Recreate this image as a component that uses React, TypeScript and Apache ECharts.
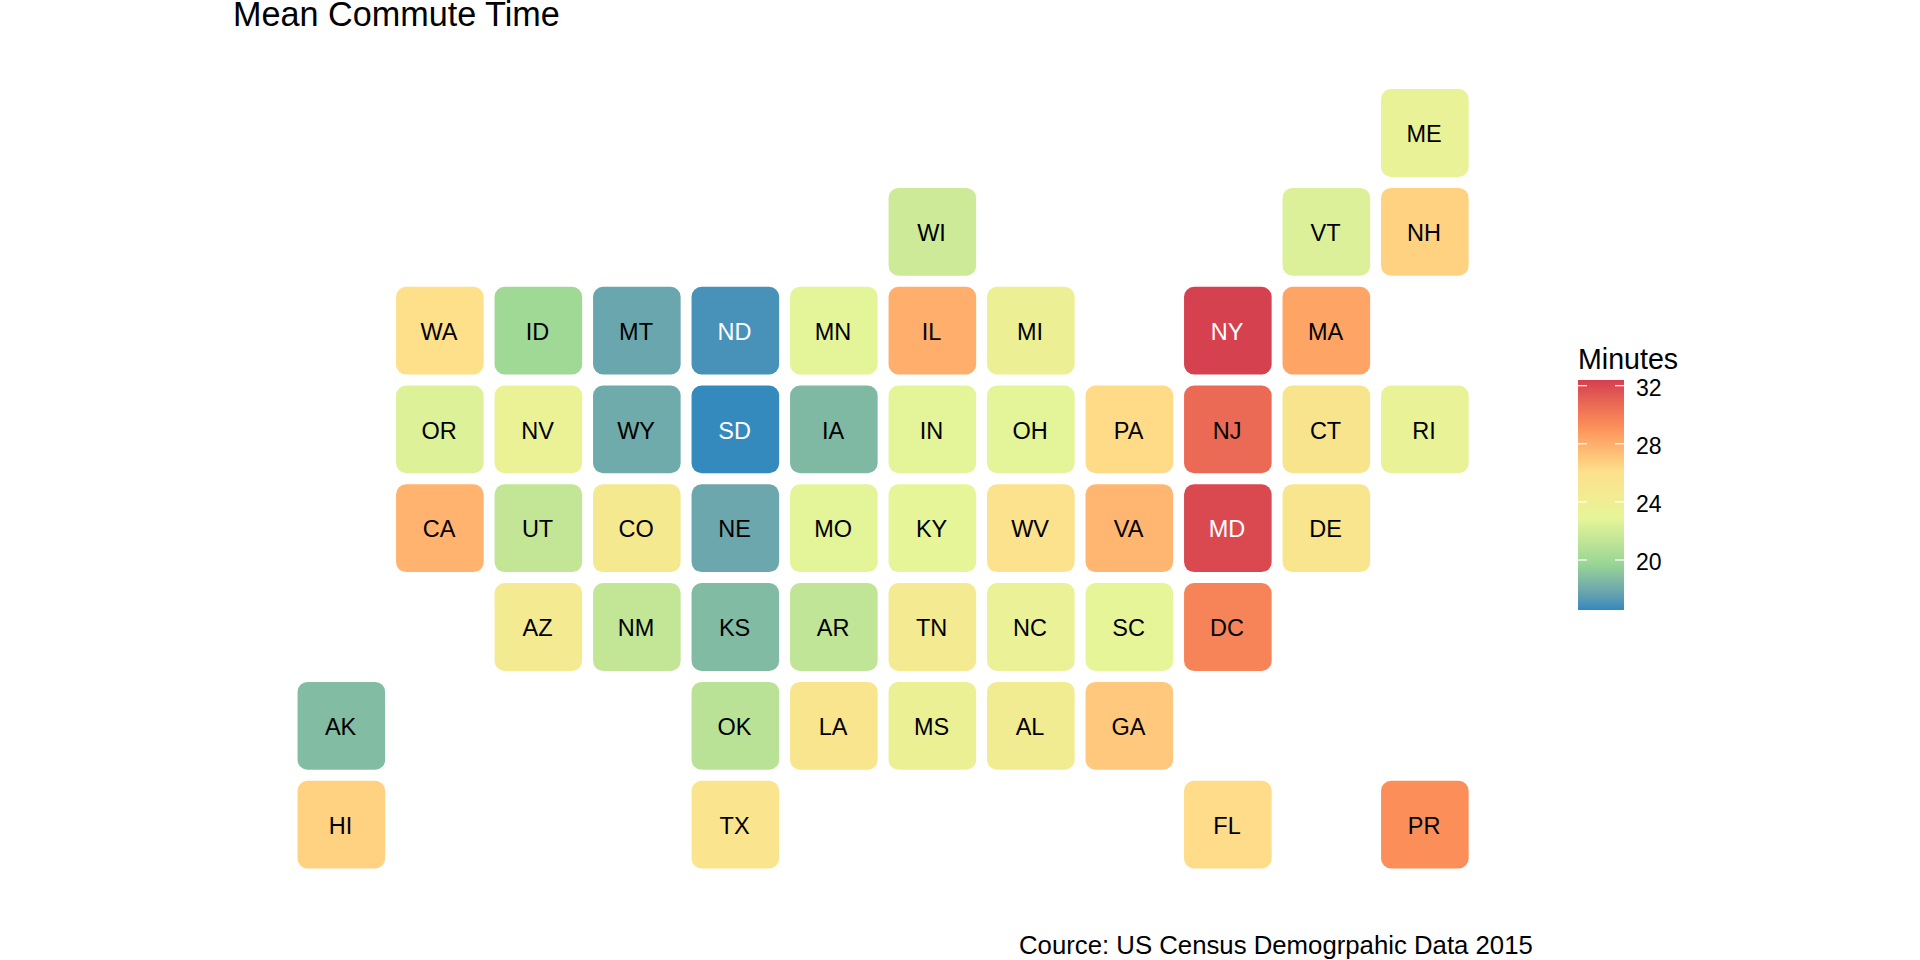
import React, { useEffect, useRef } from "react";
import * as echarts from "echarts";

const stateCodes = ["ME","WI","VT","NH","WA","ID","MT","ND","MN","IL","MI","NY","MA","OR","NV","WY","SD","IA","IN","OH","PA","NJ","CT","RI","CA","UT","CO","NE","MO","KY","WV","VA","MD","DE","AZ","NM","KS","AR","TN","NC","SC","DC","AK","OK","LA","MS","AL","GA","HI","TX","FL","PR"];
const stateCols = [11,6,10,11,1,2,3,4,5,6,7,9,10,1,2,3,4,5,6,7,8,9,10,11,1,2,3,4,5,6,7,8,9,10,2,3,4,5,6,7,8,9,0,4,5,6,7,8,0,4,9,11];
const stateRows = [0,1,1,1,2,2,2,2,2,2,2,2,2,3,3,3,3,3,3,3,3,3,3,3,4,4,4,4,4,4,4,4,4,4,5,5,5,5,5,5,5,5,6,6,6,6,6,6,7,7,7,7];
const commuteMinutes = [23.3,21.8,22.4,26.6,26,20,17.85,16.95,22.8,28,23.8,32.3,28.4,22.5,23.5,18.05,16.6,18.6,22.8,22.8,26.3,30.7,25.4,23.3,27.8,21.4,24.8,17.9,22.8,22.9,25.8,27.7,32,25.3,24.6,21.4,18.7,21.35,24.6,23.4,22.9,29.6,18.75,21,25.3,23.6,24.2,27.0,26.6,25.5,26.2,29.2];
const whiteLabelStates = ["ND","SD","NY","MD"];
const palette = ["#3288BD","#99D594","#E6F598","#FEE08B","#FC8D59","#D53E4F"];
const scaleMin = 16.56;
const scaleMax = 32.39;
const legendTicks = [20,24,28,32];

const FONT = '"Liberation Sans", Arial, sans-serif';

// ggplot2 blends its colour scale in CIE Lab, so the stops between palette entries are made the same way.
function hexToLab(hex: string) {
  const c = [1, 3, 5].map((i) => parseInt(hex.slice(i, i + 2), 16) / 255)
    .map((v) => (v > 0.04045 ? Math.pow((v + 0.055) / 1.055, 2.4) : v / 12.92));
  const X = (0.4124 * c[0] + 0.3576 * c[1] + 0.1805 * c[2]) / 0.95047;
  const Y = 0.2126 * c[0] + 0.7152 * c[1] + 0.0722 * c[2];
  const Z = (0.0193 * c[0] + 0.1192 * c[1] + 0.9505 * c[2]) / 1.08883;
  const f = (t: number) => (t > 0.008856 ? Math.cbrt(t) : 7.787 * t + 16 / 116);
  return [116 * f(Y) - 16, 500 * (f(X) - f(Y)), 200 * (f(Y) - f(Z))];
}
function labToHex([L, a, b]: number[]) {
  const fy = (L + 16) / 116, fx = fy + a / 500, fz = fy - b / 200;
  const g = (t: number) => (t * t * t > 0.008856 ? t * t * t : (t - 16 / 116) / 7.787);
  const X = g(fx) * 0.95047, Y = g(fy), Z = g(fz) * 1.08883;
  const lin = [
    3.2406 * X - 1.5372 * Y - 0.4986 * Z,
    -0.9689 * X + 1.8758 * Y + 0.0415 * Z,
    0.0557 * X - 0.204 * Y + 1.057 * Z,
  ];
  return "#" + lin.map((v) => {
    const s = v > 0.0031308 ? 1.055 * Math.pow(v, 1 / 2.4) - 0.055 : 12.92 * v;
    return Math.round(Math.min(1, Math.max(0, s)) * 255).toString(16).padStart(2, "0");
  }).join("");
}
const labPalette = palette.map(hexToLab);
const ramp: string[] = [];
for (let i = 0; i < labPalette.length - 1; i++) {
  for (let k = 0; k < 8; k++) {
    const t = k / 8;
    ramp.push(labToHex(labPalette[i].map((v, j) => v + (labPalette[i + 1][j] - v) * t)));
  }
}
ramp.push(palette[palette.length - 1]);

export default function App() {
  const ref = useRef<HTMLDivElement>(null);
  useEffect(() => {
    document.body.style.margin = "0";
    const chart = echarts.init(ref.current!, undefined, { renderer: "svg" });
    const tiles = stateCodes.map((s, i) => [stateCols[i], stateRows[i], commuteMinutes[i], s]);
    const title = (text: string, left: number, top: number, size: number, lineHeight?: number) => ({
      text, left, top, padding: 0,
      textStyle: { fontFamily: FONT, fontSize: size, fontWeight: "normal", color: "#000", lineHeight },
    });
    chart.setOption({
      animation: false,
      backgroundColor: "#fff",
      title: [
        title("Mean Commute Time", 233, 0, 34.2, 28),
        title("Minutes", 1578, 344, 28.6),
        title("Cource: US Census Demogrpahic Data 2015", 1019, 932, 25.75),
      ],
      grid: [
        { left: 292.1, top: 83.6, width: 1182, height: 790.4 },
        { left: 1578, top: 380, width: 46, height: 230 },
      ],
      xAxis: [
        { gridIndex: 0, type: "value", min: -0.5, max: 11.5, show: false },
        { gridIndex: 1, type: "value", min: 0, max: 1, show: false },
      ],
      yAxis: [
        { gridIndex: 0, type: "value", min: -0.5, max: 7.5, inverse: true, show: false },
        { gridIndex: 1, type: "value", min: scaleMin, max: scaleMax, show: false },
      ],
      visualMap: {
        show: false, type: "continuous", seriesIndex: 0, dimension: 2,
        min: scaleMin, max: scaleMax, inRange: { color: ramp },
      },
      series: [
        {
          type: "custom", xAxisIndex: 0, yAxisIndex: 0, coordinateSystem: "cartesian2d",
          data: tiles,
          encode: { x: 0, y: 1 },
          renderItem: (_p: any, api: any) => {
            const [cx, cy] = api.coord([api.value(0), api.value(1)]);
            const w = 87.6, h = 87.8;
            const code = stateCodes[_p.dataIndex];
            return {
              type: "group",
              children: [
                { type: "rect", shape: { x: cx - w / 2, y: cy - h / 2, width: w, height: h, r: 10 }, style: { fill: api.visual("color") } },
                {
                  type: "text", x: cx - 0.8, y: cy + 1.2,
                  style: {
                    text: code, fontFamily: FONT, fontSize: 23.5, align: "center", verticalAlign: "middle",
                    fill: whiteLabelStates.includes(code) ? "#fff" : "#000",
                  },
                },
              ],
            };
          },
        },
        {
          type: "custom", xAxisIndex: 1, yAxisIndex: 1, coordinateSystem: "cartesian2d", silent: true,
          data: [[0, scaleMin, 1, scaleMax]],
          encode: { x: [0, 2], y: [1, 3] },
          renderItem: (_p: any, api: any) => {
            const a = api.coord([api.value(0), api.value(1)]);
            const b = api.coord([api.value(2), api.value(3)]);
            const tickLen = 9;
            const tickStyle = { stroke: "#fff", lineWidth: 1.2 };
            const marks = legendTicks.flatMap((v) => {
              const y = api.coord([0, v])[1];
              return [
                { type: "line", shape: { x1: a[0], y1: y, x2: a[0] + tickLen, y2: y }, style: tickStyle },
                { type: "line", shape: { x1: b[0] - tickLen, y1: y, x2: b[0], y2: y }, style: tickStyle },
                {
                  type: "text", x: b[0] + 12, y: y + 2,
                  style: { text: String(v), fontFamily: FONT, fontSize: 23, align: "left", verticalAlign: "middle", fill: "#000" },
                },
              ];
            });
            return {
              type: "group",
              children: [
                {
                  type: "rect",
                  shape: { x: a[0], y: b[1], width: b[0] - a[0], height: a[1] - b[1] },
                  style: {
                    fill: new echarts.graphic.LinearGradient(0, 1, 0, 0,
                      ramp.map((color, i) => ({ offset: i / (ramp.length - 1), color }))),
                  },
                },
                ...marks,
              ],
            };
          },
        },
      ],
    });
    return () => chart.dispose();
  }, []);
  return <div ref={ref} style={{ position: "absolute", left: 0, top: 0, width: 1920, height: 960 }} />;
}
